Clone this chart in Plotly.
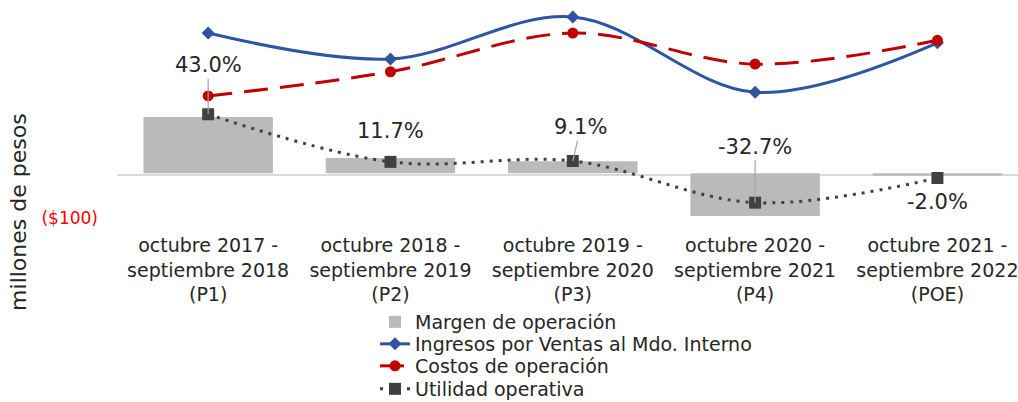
import plotly.graph_objects as go

categorias = [
    "octubre 2017 -<br>septiembre 2018<br>(P1)",
    "octubre 2018 -<br>septiembre 2019<br>(P2)",
    "octubre 2019 -<br>septiembre 2020<br>(P3)",
    "octubre 2020 -<br>septiembre 2021<br>(P4)",
    "octubre 2021 -<br>septiembre 2022<br>(POE)",
]
margen_operacion = [43.0, 11.7, 9.1, -32.7, -2.0]          # %
ingresos = [335, 274, 373, 196, 312]                        # millones de pesos
costos = [187, 244, 335, 262, 318]
utilidad = [144, 32, 34, -64, -6]
etiquetas = ["43.0%", "11.7%", "9.1%", "-32.7%", "-2.0%"]

x = list(range(len(categorias)))
font_family = "DejaVu Sans, Open Sans, sans-serif"
txt_color = "#262626"

fig = go.Figure()
fig.add_trace(go.Bar(
    x=x, y=margen_operacion, name="Margen de operación", legend="legend",
    marker=dict(color="#bababa", line=dict(width=0)), width=0.71, yaxis="y",
))
fig.add_trace(go.Scatter(
    x=x, y=ingresos, name="Ingresos por Ventas al Mdo. Interno", mode="lines+markers",
    legend="legend2",
    line=dict(color="#2f55a0", width=3, shape="spline", smoothing=1),
    marker=dict(symbol="diamond", size=10, color="#2f55a0"), yaxis="y2",
))
fig.add_trace(go.Scatter(
    x=x, y=costos, name="Costos de operación", mode="lines+markers", legend="legend3",
    line=dict(color="#c00000", width=3, shape="spline", smoothing=1, dash="24px,12px"),
    marker=dict(symbol="circle", size=11, color="#c00000"), yaxis="y2",
))
fig.add_trace(go.Scatter(
    x=x, y=utilidad, name="Utilidad operativa", mode="lines+markers", legend="legend4",
    line=dict(color="#404040", width=3, shape="spline", smoothing=1, dash="3px,6px"),
    marker=dict(symbol="square", size=12, color="#404040"), yaxis="y2",
))

# data labels (margin %) placed relative to the Utilidad markers
offsets = [(0, -49, True), (0, -31, False), (8, -34, True), (0, -56, True), (0, 24, False)]
for xi, yi, lab, (ax, ay, arrow) in zip(x, utilidad, etiquetas, offsets):
    if arrow:
        fig.add_annotation(x=xi, y=yi, xref="x", yref="y2", text=lab, showarrow=True,
                           ax=ax, ay=ay, arrowhead=0, arrowwidth=1.2, arrowcolor="#a6a6a6",
                           standoff=0, font=dict(size=21, color=txt_color, family=font_family))
    else:
        fig.add_annotation(x=xi, y=yi, xref="x", yref="y2", text=lab, showarrow=False,
                           xshift=ax, yshift=-ay,
                           font=dict(size=21, color=txt_color, family=font_family))

fig.add_annotation(text="millones de pesos", textangle=-90, xref="paper", yref="paper",
                   x=-0.11, y=0.088, xanchor="center", yanchor="middle", showarrow=False,
                   font=dict(size=22, color=txt_color, family=font_family))


def legend_row(y_px):
    return dict(x=375 / 1018, y=1 - y_px / 402, xref="container", yref="container",
                xanchor="left", yanchor="middle", orientation="v",
                font=dict(size=19, color=txt_color, family=font_family),
                bgcolor="rgba(0,0,0,0)", borderwidth=0)


fig.update_layout(
    width=1018, height=402,
    margin=dict(l=117, r=0, t=5, b=170, autoexpand=False),
    paper_bgcolor="white", plot_bgcolor="white",
    font=dict(family=font_family, color=txt_color),
    showlegend=True, hovermode=False,
    legend=legend_row(322),
    legend2=legend_row(344),
    legend3=legend_row(366),
    legend4=legend_row(389),
    xaxis=dict(range=[-0.5, 4.442], tickvals=x, ticktext=categorias, showgrid=False,
               zeroline=False, showline=False, ticks="", automargin=False,
               ticklabeloverflow="allow",
               tickfont=dict(size=19, color=txt_color, family=font_family)),
    yaxis=dict(range=[-44.95, 128.6], visible=False, showgrid=False, zeroline=False),
    yaxis2=dict(range=[-133, 401], overlaying="y", side="left", showgrid=False,
                zeroline=True, zerolinecolor="#d9d9d9", zerolinewidth=2, automargin=False,
                tickvals=[-100], ticktext=["($100)"], ticks="", ticklabelstandoff=18,
                ticklabeloverflow="allow",
                tickfont=dict(size=17, color="#ff0000", family=font_family)),
    bargap=0.29,
)

fig.write_html(
    "out.html",
    config={"displayModeBar": False},
    post_script="document.body.style.margin='0px';document.body.style.overflow='hidden';",
)
